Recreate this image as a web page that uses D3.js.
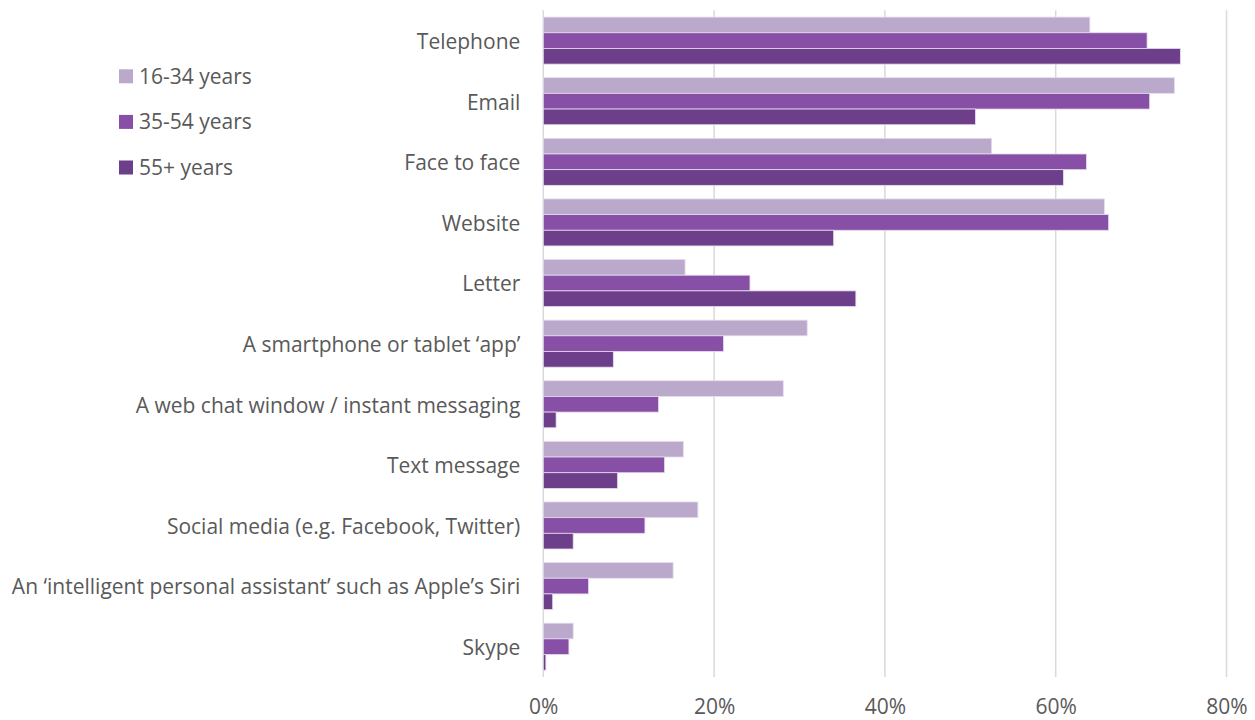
<!DOCTYPE html>
<html><head><meta charset="utf-8">
<script src="https://cdn.jsdelivr.net/npm/d3@7"></script>
<style>body{margin:0;background:#fff;} svg{display:block;}</style>
</head><body>
<svg id="c" width="1255" height="720"></svg>
<script>
const categories = ["Telephone","Email","Face to face","Website","Letter","A smartphone or tablet \u2018app\u2019","A web chat window / instant messaging","Text message","Social media (e.g. Facebook, Twitter)","An \u2018intelligent personal assistant\u2019 such as Apple\u2019s Siri","Skype"];
const seriesNames = ["16-34 years","35-54 years","55+ years"];
const s1634 = [64.0, 73.9, 52.5, 65.7, 16.6, 30.9, 28.1, 16.4, 18.1, 15.2, 3.5];
const s3554 = [70.7, 71.0, 63.6, 66.2, 24.2, 21.1, 13.5, 14.2, 11.9, 5.3, 3.0];
const s55 = [74.6, 50.6, 60.9, 34.0, 36.6, 8.2, 1.5, 8.7, 3.5, 1.1, 0.3];
const tickValues = [0, 20, 40, 60, 80];
const colors = ["#BBA9CC", "#874FA6", "#6D3F8A"];

(function () {
const series = [s1634, s3554, s55];
const svg = d3.select("#c");
const font = "'Open Sans', sans-serif";
const fs = 21;
const pL = 543.3, pR = 1226.5, pT = 10.3, pB = 677;

const x = d3.scaleLinear().domain([0, 80]).range([pL, pR]);
const y = d3.scaleBand().domain(categories).range([pT, pB]).paddingInner(0.224).paddingOuter(0.112);
const yInner = d3.scaleBand().domain(seriesNames).range([0, y.bandwidth()]);

// gridlines
svg.append("g").selectAll("line").data(tickValues).join("line")
  .attr("x1", d => x(d)).attr("x2", d => x(d))
  .attr("y1", pT).attr("y2", pB)
  .attr("stroke", "#d9d9d9").attr("stroke-width", 1.5);

// bars
const groups = svg.append("g").selectAll("g").data(categories).join("g")
  .attr("transform", d => `translate(0,${y(d)})`);
groups.selectAll("rect").data((c, i) => series.map((s, k) => ({k, v: s[i]}))).join("rect")
  .attr("x", x(0))
  .attr("y", d => yInner(seriesNames[d.k]))
  .attr("width", d => x(d.v) - x(0))
  .attr("height", yInner.bandwidth())
  .attr("fill", d => colors[d.k])
  .attr("stroke", "#e6dcef").attr("stroke-width", 0.8);

// y labels
const yAxis = d3.axisLeft(y).tickSize(0).tickPadding(23);
const ya = svg.append("g").attr("transform", `translate(${pL},0)`).call(yAxis);
ya.select(".domain").remove();
ya.selectAll("text").attr("font-family", font).attr("font-size", fs).attr("fill", "#595959").attr("dy", "0.4em");

// x labels
const xAxis = d3.axisBottom(x).tickValues(tickValues).tickFormat(d => d + "%").tickSize(0).tickPadding(22);
const xa = svg.append("g").attr("transform", `translate(0,${pB})`).call(xAxis);
xa.select(".domain").remove();
xa.selectAll("text").attr("font-family", font).attr("font-size", fs).attr("fill", "#595959");

// legend
const lg = svg.append("g").selectAll("g").data(seriesNames).join("g")
  .attr("transform", (d, i) => `translate(119,${69.3 + i * 45.6})`);
lg.append("rect").attr("width", 14).attr("height", 14).attr("fill", (d, i) => colors[i]);
lg.append("text").attr("x", 20).attr("y", 7).attr("dy", "0.36em")
  .attr("font-family", font).attr("font-size", fs).attr("fill", "#595959").text(d => d);
})();
</script>
</body></html>
